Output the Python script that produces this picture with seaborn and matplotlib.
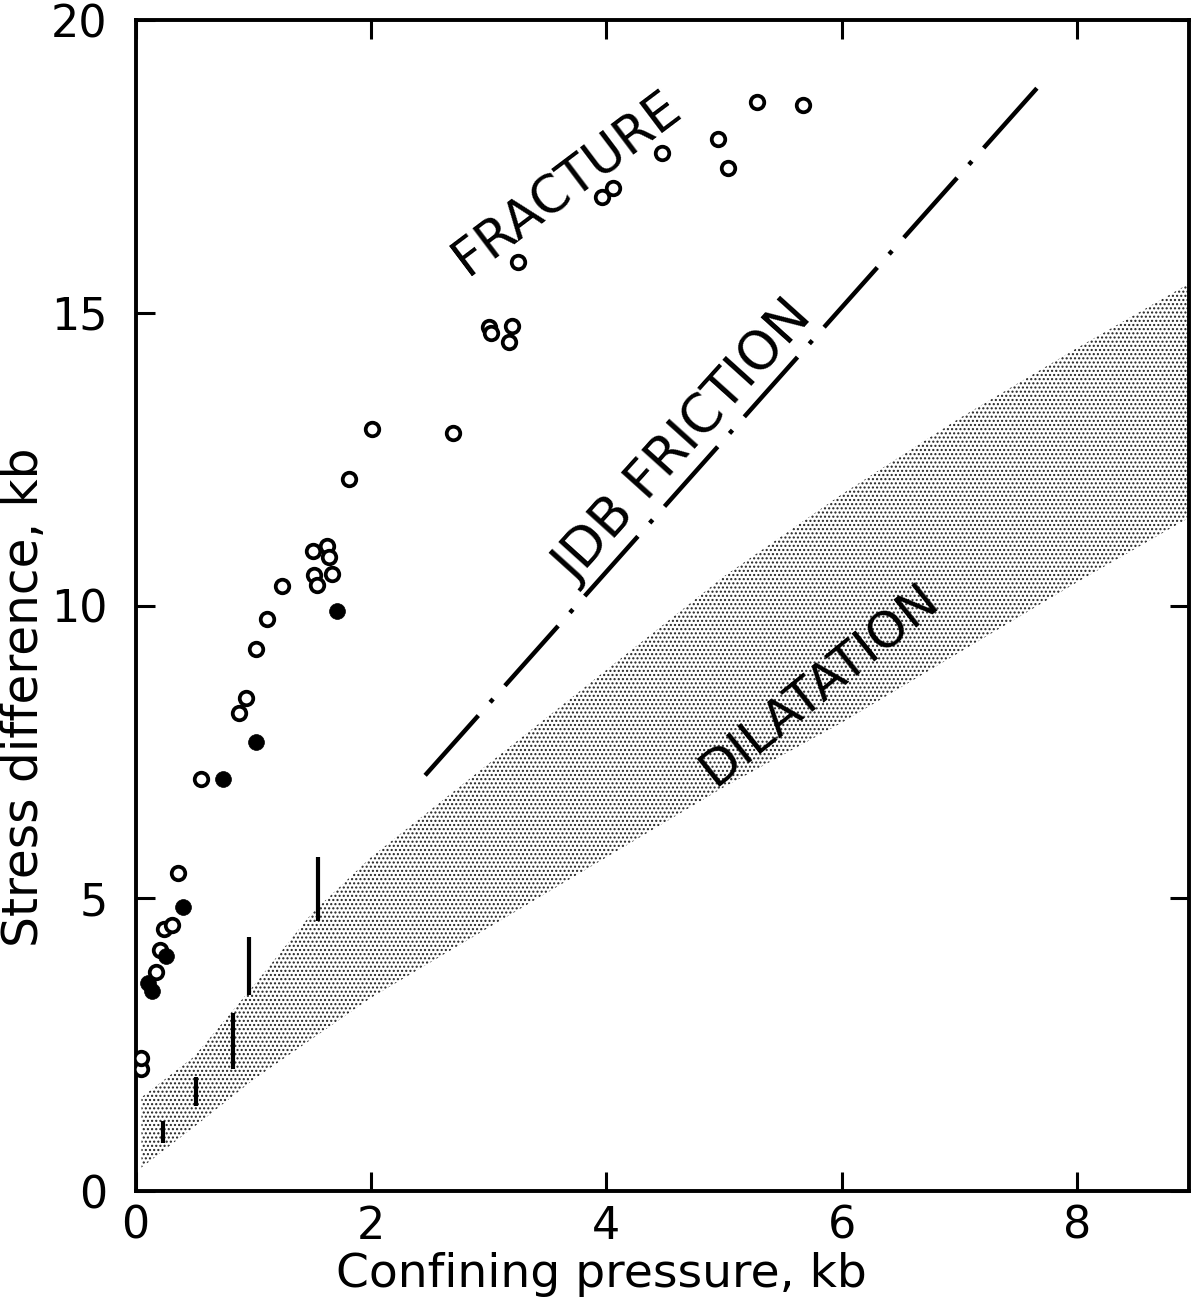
import numpy as np
import pandas as pd
import matplotlib
matplotlib.use("Agg")
import matplotlib.pyplot as plt
import seaborn as sns

# ---------------- data ----------------
# open circles: fracture strength
open_x = [0.05, 0.05, 0.17, 0.21, 0.24, 0.31, 0.36, 0.56, 0.88, 0.94, 1.02, 1.12,
          1.24, 1.51, 1.52, 1.54, 1.63, 1.64, 1.67, 1.81, 2.01, 2.70, 3.00, 3.02,
          3.17, 3.20, 3.25, 3.96, 4.06, 4.47, 4.95, 5.03, 5.28, 5.67]
open_y = [2.08, 2.27, 3.74, 4.12, 4.47, 4.54, 5.43, 7.04, 8.16, 8.42, 9.26, 9.77,
          10.33, 10.93, 10.52, 10.35, 11.02, 10.83, 10.54, 12.16, 13.01, 12.95, 14.75, 14.65,
          14.50, 14.77, 15.87, 16.98, 17.13, 17.73, 17.97, 17.47, 18.60, 18.55]
# filled circles
filled_x = [0.11, 0.14, 0.26, 0.40, 0.74, 1.02, 1.71]
filled_y = [3.55, 3.42, 4.01, 4.85, 7.04, 7.67, 9.91]
# vertical bars
bar_x = [0.23, 0.51, 0.83, 0.96, 1.55]
bar_lo = [0.82, 1.45, 2.08, 3.35, 4.61]
bar_hi = [1.19, 1.95, 3.04, 4.34, 5.70]
# JDB friction line
jdb_x = [2.46, 7.73]
jdb_y = [7.10, 19.00]
# dilatation band
dil_x = [0.05, 0.5, 1.0, 1.5, 2.0, 2.5, 3.0, 4.0, 5.0, 6.0, 7.0, 8.0, 8.95]
dil_upper = [1.6, 2.3, 3.5, 4.75, 5.7, 6.5, 7.3, 8.9, 10.5, 11.9, 13.2, 14.4, 15.5]
dil_lower = [0.4, 1.1, 1.9, 2.6, 3.3, 3.9, 4.5, 5.7, 6.9, 8.0, 9.2, 10.4, 11.5]

x_ticks = [0, 2, 4, 6, 8]
y_ticks = [0, 5, 10, 15, 20]
x_label = "Confining pressure, kb"
y_label = "Stress difference, kb"

# ---------------- figure ----------------
sns.set_style("ticks")
plt.rcParams["font.family"] = ["DejaVu Sans"]
plt.rcParams["text.color"] = "black"
plt.rcParams["axes.labelcolor"] = "black"
plt.rcParams["hatch.linewidth"] = 1.0

fig = plt.figure(figsize=(11.91, 12.99), dpi=100)
ax = fig.add_axes([0.1138, 0.0831, 0.8846, 0.9015])

# dilatation band (stippled)
ax.fill_between(dil_x, dil_lower, dil_upper, facecolor="white",
                edgecolor="#222222", hatch="....", linewidth=0, zorder=1)

# vertical bars
ax.vlines(bar_x, bar_lo, bar_hi, color="black", linewidth=3.0, zorder=3)

# JDB friction line
jdb_df = pd.DataFrame({"x": jdb_x, "y": jdb_y})
sns.lineplot(data=jdb_df, x="x", y="y", ax=ax, color="black", linewidth=3.2,
             dashes=False, zorder=3)
ax.lines[-1].set_dashes((18, 4, 1, 4))

# points
open_df = pd.DataFrame({"x": open_x, "y": open_y})
filled_df = pd.DataFrame({"x": filled_x, "y": filled_y})
sns.scatterplot(data=open_df, x="x", y="y", ax=ax, marker="o", s=95,
                facecolor="white", edgecolor="black", linewidth=2.7, zorder=4)
sns.scatterplot(data=filled_df, x="x", y="y", ax=ax, marker="o", s=130,
                color="black", edgecolor="black", linewidth=0.5, zorder=4)

# annotations
ax.text(3.67, 17.2, "FRACTURE", rotation=37, rotation_mode="anchor",
        ha="center", va="center", fontsize=37, color="black", zorder=5)
ax.text(4.66, 12.80, "JDB FRICTION", rotation=48, rotation_mode="anchor",
        ha="center", va="center", fontsize=38, color="black", zorder=5)
ax.text(5.81, 8.64, "DILATATION", rotation=39, rotation_mode="anchor",
        ha="center", va="center", fontsize=36, color="black", zorder=5)

# axes styling
ax.set_xlim(0, 8.95)
ax.set_ylim(0, 20)
ax.set_xticks(x_ticks)
ax.set_yticks(y_ticks)
ax.set_xticklabels([str(t) for t in x_ticks])
ax.set_yticklabels([str(t) for t in y_ticks])
for sp in ax.spines.values():
    sp.set_visible(True)
    sp.set_linewidth(2.8)
    sp.set_color("black")
ax.tick_params(direction="in", length=14, width=2.2, top=True, right=True,
               labeltop=False, labelright=False, labelsize=32,
               colors="black", labelcolor="black")
ax.tick_params(axis="y", pad=20)
ax.tick_params(axis="x", pad=10)

ax.set_xlabel(x_label, fontsize=34, color="black")
ax.set_ylabel(y_label, fontsize=35, color="black")
ax.xaxis.set_label_coords(0.442, -0.052)
ax.yaxis.set_label_coords(-0.083, 0.422)
ax.grid(False)

fig.savefig("out.png", dpi=100, facecolor="white")
